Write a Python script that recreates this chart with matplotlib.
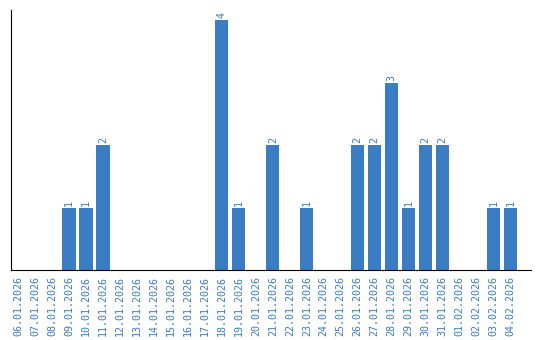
import matplotlib
matplotlib.use('Agg')
import matplotlib.pyplot as plt
import numpy as np

# данные
dates = ['06.01.2026', '07.01.2026', '08.01.2026', '09.01.2026', '10.01.2026',
         '11.01.2026', '12.01.2026', '13.01.2026', '14.01.2026', '15.01.2026',
         '16.01.2026', '17.01.2026', '18.01.2026', '19.01.2026', '20.01.2026',
         '21.01.2026', '22.01.2026', '23.01.2026', '24.01.2026', '25.01.2026',
         '26.01.2026', '27.01.2026', '28.01.2026', '29.01.2026', '30.01.2026',
         '31.01.2026', '01.02.2026', '02.02.2026', '03.02.2026', '04.02.2026']
counts = [0, 0, 0, 1, 1, 2, 0, 0, 0, 0, 0, 0, 4, 1, 0,
          2, 0, 1, 0, 0, 2, 2, 3, 1, 2, 2, 0, 0, 1, 1]

color = '#3a7dc2'
fig = plt.figure(figsize=(5.4, 3.4), dpi=100)
ax = fig.add_axes([11 / 540, 70 / 340, 520 / 540, 260 / 340])

x = np.arange(len(dates))
ax.bar(x, counts, width=0.78, color=color)

for xi, c in zip(x, counts):
    if c > 0:
        ax.text(xi, c + 0.03, str(c), rotation=90, ha='center', va='bottom',
                color=color, fontsize=7.2, family='DejaVu Sans Mono')

ax.set_xlim(-0.41, 30.2)
ax.set_ylim(0, 4.16)
ax.set_xticks(x)
ax.set_xticklabels(dates, rotation=90, color=color, fontsize=7.2,
                   family='DejaVu Sans Mono')
ax.tick_params(axis='x', length=0, pad=4)
ax.set_yticks([])
ax.spines['top'].set_visible(False)
ax.spines['right'].set_visible(False)

fig.savefig('out.png', dpi=100)
